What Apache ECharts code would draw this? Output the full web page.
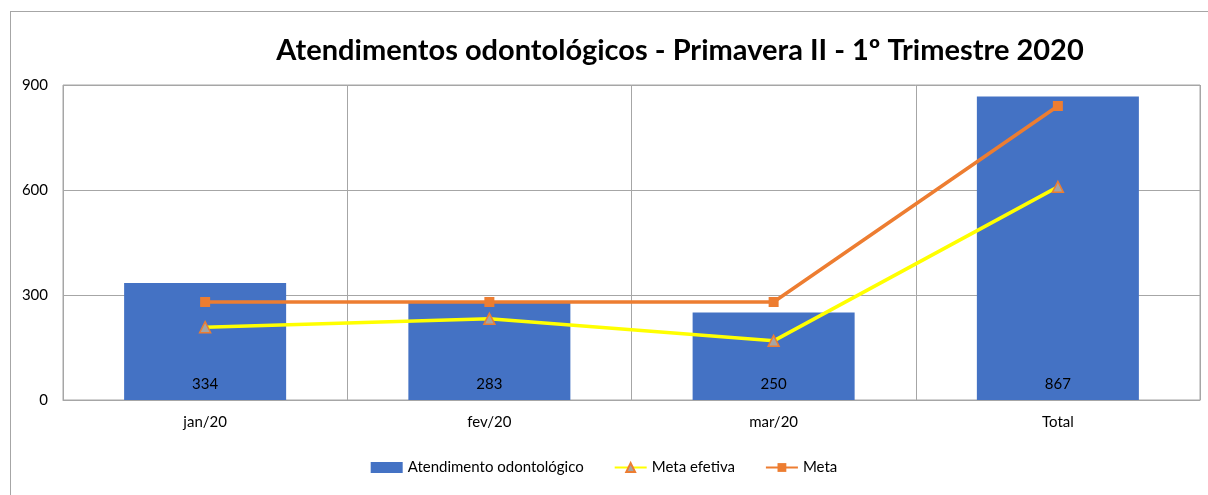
<!DOCTYPE html>
<html>
<head>
<meta charset="utf-8">
<script src="https://cdn.jsdelivr.net/npm/echarts@6/dist/echarts.min.js"></script>
<style>
  html, body { margin: 0; padding: 0; background: #fff; }
  #chart { width: 1208px; height: 495px; }
  .frame { position: absolute; left: 10px; top: 11px; width: 1210px; height: 500px; border: 1px solid #a6a6a6; pointer-events: none; }
</style>
</head>
<body>
<div id="chart"></div>
<div class="frame"></div>
<script>
var categories = ["jan/20", "fev/20", "mar/20", "Total"];
var atendimentos = [334, 283, 250, 867];
var metaEfetiva = [208, 232, 169, 609];
var meta = [280, 280, 280, 840];
var yTicks = [0, 300, 600, 900];

var myChart = echarts.init(document.getElementById("chart"));
var font = "Lato, 'Open Sans', sans-serif";
var option = {
  animation: false,
  textStyle: { fontFamily: font },
  title: {
    text: "Atendimentos odontológicos - Primavera II - 1º Trimestre 2020",
    left: 675,
    textAlign: "center",
    top: 31,
    textStyle: { fontSize: 29, fontWeight: "bold", color: "#000", fontFamily: font }
  },
  grid: {
    left: 63, right: 8, top: 85, bottom: 95,
    show: true, borderColor: "#a6a6a6", borderWidth: 1
  },
  legend: {
    bottom: 15,
    left: "center",
    itemGap: 30,
    itemWidth: 32,
    itemHeight: 11,
    textStyle: { fontSize: 15, color: "#000", fontFamily: font },
    data: [
      { name: "Atendimento odontológico", icon: "rect", itemStyle: { color: "#4472c4" } },
      { name: "Meta efetiva" },
      { name: "Meta" }
    ]
  },
  xAxis: {
    type: "category",
    data: categories,
    axisTick: { show: false },
    axisLine: { lineStyle: { color: "#a6a6a6" } },
    axisLabel: { color: "#000", fontSize: 15, margin: 15 },
    splitLine: { show: true, lineStyle: { color: "#a6a6a6" } }
  },
  yAxis: {
    type: "value",
    min: yTicks[0],
    max: yTicks[yTicks.length - 1],
    interval: 300,
    axisLine: { show: false },
    axisTick: { show: false },
    axisLabel: { color: "#000", fontSize: 15, margin: 15 },
    splitLine: { lineStyle: { color: "#a6a6a6" } }
  },
  series: [
    {
      name: "Atendimento odontológico",
      type: "bar",
      data: atendimentos,
      barWidth: "57%",
      itemStyle: { color: "#4472c4" },
      label: { show: true, position: "insideBottom", distance: 8, color: "#000", fontSize: 15 }
    },
    {
      name: "Meta efetiva",
      type: "line",
      data: metaEfetiva,
      symbol: "triangle",
      symbolSize: 11,
      lineStyle: { color: "#ffff00", width: 3.5 },
      itemStyle: { color: "#a5a5a5", borderColor: "#ed7d31", borderWidth: 1.5 }
    },
    {
      name: "Meta",
      type: "line",
      data: meta,
      symbol: "rect",
      symbolSize: 10,
      lineStyle: { color: "#ed7d31", width: 3.5 },
      itemStyle: { color: "#ed7d31" }
    }
  ]
};
myChart.setOption(option);
</script>
</body>
</html>
